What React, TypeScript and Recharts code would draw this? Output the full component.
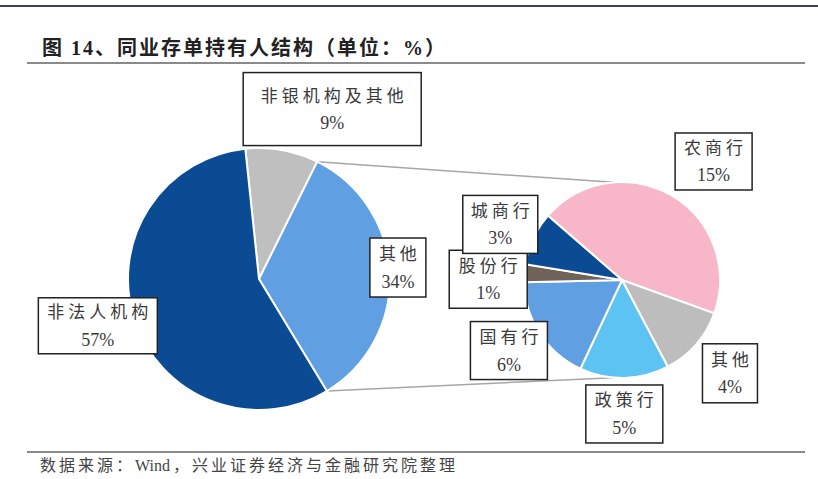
import React from "react";
import {Cell, Customized, Pie, PieChart} from "recharts";

// main pie
const mainNames = ["非银机构及其他", "其他", "非法人机构"];
const mainValues = [9, 34, 57];
const mainColors = ["#bfbfbf", "#5f9fe2", "#0a4b94"];

// breakdown of "其他"
const subNames = ["农商行", "其他", "政策行", "国有行", "股份行", "城商行"];
const subValues = [15, 4, 5, 6, 1, 3];
const subColors = ["#f8b7c9", "#bdbdbd", "#5cc3f3", "#5f9fe2", "#6e6259", "#0a4b94"];

const mainData = mainNames.map((name, i) => ({name, value: mainValues[i]}));
const subData = subNames.map((name, i) => ({name, value: subValues[i]}));

const W = 818;
const H = 479;
const RAD = Math.PI / 180;

const MAIN = {cx: 259, cy: 279, r: 131, start: 96};
const SUB = {cx: 622, cy: 280, r: 98, start: 139};

// label box placement, relative to the slice's outer mid point
const mainLabelBox = [
    {dx: 50, dy: -41, w: 178, h: 73},
    {dx: 8, dy: -6, w: 56, h: 59},
    {dx: -37, dy: 5, w: 119, h: 56},
];
const subLabelBox = [
    {dx: 42, dy: -34, w: 77, h: 57},
    {dx: 34, dy: 29, w: 55, h: 59},
    {dx: 0, dy: 36, w: 77, h: 58},
    {dx: -31, dy: 17, w: 77, h: 58},
    {dx: -36, dy: 6, w: 78, h: 58},
    {dx: -33, dy: -14, w: 75, h: 58},
];

const labelFont = '"Liberation Serif", "Noto Sans CJK SC", serif';

const polar = (cx: number, cy: number, r: number, deg: number) => ({
    x: cx + r * Math.cos(-deg * RAD),
    y: cy + r * Math.sin(-deg * RAD),
});

const makeLabel = (names: string[], values: number[], boxes: any[]) => (props: any) => {
    const {cx, cy, midAngle, outerRadius, index} = props;
    const p = polar(Number(cx), Number(cy), Number(outerRadius), midAngle);
    const b = boxes[index];
    const x = p.x + b.dx;
    const y = p.y + b.dy;
    return (
        <g key={`lb-${index}`}>
            <rect x={x - b.w / 2} y={y - b.h / 2} width={b.w} height={b.h} fill="#fff" stroke="#222" strokeWidth={1.5} />
            <text x={x + 2} y={y - 13} textAnchor="middle" dominantBaseline="central" fontSize={17}
                  letterSpacing={4} fill="#3a3a3a" fontFamily={labelFont}>{names[index]}</text>
            <text x={x} y={y + 14} textAnchor="middle" dominantBaseline="central" fontSize={18}
                  fill="#3a3a3a" fontFamily={labelFont}>{values[index]}%</text>
        </g>
    );
};

// lines from the "其他" slice of the main pie to the breakdown pie
const Connectors = () => {
    const total = mainValues.reduce((a, b) => a + b, 0);
    const a1 = MAIN.start - (mainValues[0] / total) * 360;
    const a2 = a1 - (mainValues[1] / total) * 360;
    const p1 = polar(MAIN.cx, MAIN.cy, MAIN.r, a1);
    const p2 = polar(MAIN.cx, MAIN.cy, MAIN.r, a2);
    const q1 = polar(SUB.cx, SUB.cy, SUB.r, 95);
    const q2 = polar(SUB.cx, SUB.cy, SUB.r, -95);
    return (
        <g>
            <line x1={p1.x} y1={p1.y} x2={q1.x} y2={q1.y} stroke="#a6a6a6" strokeWidth={1.5} />
            <line x1={p2.x} y1={p2.y} x2={q2.x} y2={q2.y} stroke="#a6a6a6" strokeWidth={1.5} />
        </g>
    );
};

const App = () => {
    return (
        <div style={{position: 'relative', width: W, height: H, background: '#fff', overflow: 'hidden'}}>
            <style>{`body{margin:0}`}</style>
            <div style={{position: 'absolute', left: 0, top: 5, width: W, height: 2, background: '#3b3f5c'}} />
            <div style={{
                position: 'absolute', left: 42, top: 34, fontSize: 20, fontWeight: 'bold', letterSpacing: 2,
                fontFamily: '"Liberation Serif", "Noto Sans CJK SC", serif', color: '#222', whiteSpace: 'nowrap', lineHeight: '28px'
            }}>图 14、同业存单持有人结构（单位：%）</div>
            <div style={{position: 'absolute', left: 27, top: 62, width: 778, height: 2, background: '#8a8a8a'}} />
            <div style={{position: 'absolute', left: 27, top: 451, width: 778, height: 2, background: '#8a8a8a'}} />
            <div style={{
                position: 'absolute', left: 40, top: 455, fontSize: 16, letterSpacing: 3,
                fontFamily: '"Liberation Serif", "Noto Sans CJK SC", serif', color: '#444', whiteSpace: 'nowrap', lineHeight: '22px'
            }}>数据来源：<span style={{letterSpacing: 0, marginRight: 3}}>Wind</span>，兴业证券经济与金融研究院整理</div>
            <div style={{position: 'absolute', left: 0, top: 0}}>
                <PieChart width={W} height={H} margin={{top: 0, right: 0, bottom: 0, left: 0}}>
                    <Customized component={Connectors} />
                    <Pie
                        data={mainData}
                        dataKey="value"
                        nameKey="name"
                        cx={MAIN.cx}
                        cy={MAIN.cy}
                        outerRadius={MAIN.r}
                        startAngle={MAIN.start}
                        endAngle={MAIN.start - 360}
                        stroke="#fff"
                        strokeWidth={2}
                        label={makeLabel(mainNames, mainValues, mainLabelBox)}
                        labelLine={false}
                        isAnimationActive={false}
                    >
                        {mainData.map((d, i) => <Cell key={`m-${i}`} fill={mainColors[i]} />)}
                    </Pie>
                    <Pie
                        data={subData}
                        dataKey="value"
                        nameKey="name"
                        cx={SUB.cx}
                        cy={SUB.cy}
                        outerRadius={SUB.r}
                        startAngle={SUB.start}
                        endAngle={SUB.start - 360}
                        stroke="#fff"
                        strokeWidth={2}
                        label={makeLabel(subNames, subValues, subLabelBox)}
                        labelLine={false}
                        isAnimationActive={false}
                    >
                        {subData.map((d, i) => <Cell key={`s-${i}`} fill={subColors[i]} />)}
                    </Pie>
                </PieChart>
            </div>
        </div>
    );
};

export default App;
